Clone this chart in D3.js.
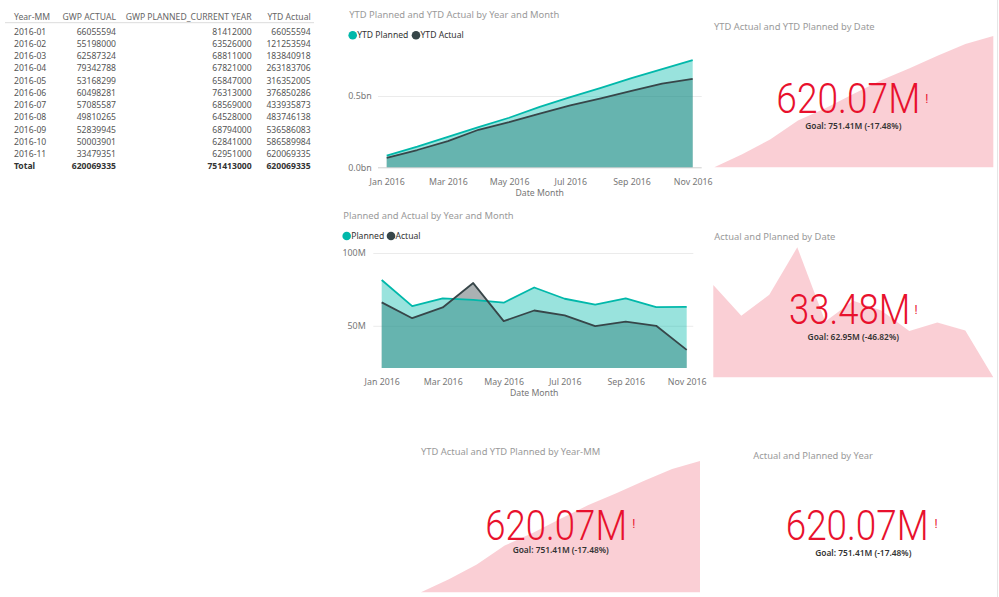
<!DOCTYPE html>
<html><head><meta charset="utf-8">
<script src="https://cdn.jsdelivr.net/npm/d3@7"></script>
<style>
html,body{margin:0;padding:0;background:#fff;}
svg{display:block;font-family:"Noto Sans","Open Sans",sans-serif;}
</style></head><body>
<svg id="c" width="999" height="597"></svg>
<script>
// ---------- data ----------
const months = ["2016-01","2016-02","2016-03","2016-04","2016-05","2016-06","2016-07","2016-08","2016-09","2016-10","2016-11"];
const gwpActual = [66055594,55198000,62587324,79342788,53168299,60498281,57085587,49810265,52839945,50003901,33479351];
const gwpPlanned = [81412000,63526000,68811000,67821000,65847000,76313000,68569000,64528000,68794000,62841000,62951000];
const ytdActual = [66055594,121253594,183840918,263183706,316352005,376850286,433935873,483746138,536586083,586589984,620069335];
const ytdPlanned = [81412000,144938000,213749000,281570000,347417000,423730000,492299000,556827000,625621000,688462000,751413000];
const tableHeaders = ["Year-MM","GWP ACTUAL","GWP PLANNED_CURRENT YEAR","YTD Actual"];
const totalLabel = "Total";
const totals = [620069335,751413000,620069335];
const xTickMonths = ["2016-01","2016-03","2016-05","2016-07","2016-09","2016-11"];
const xTickLabels = ["Jan 2016","Mar 2016","May 2016","Jul 2016","Sep 2016","Nov 2016"];
const ytdTicks = [0, 5e8];
const monthlyTicks = [50e6, 100e6];
const kpiCards = [
  {title:"YTD Actual and YTD Planned by Date", value:"620.07M", goal:"Goal: 751.41M (-17.48%)"},
  {title:"Actual and Planned by Date", value:"33.48M", goal:"Goal: 62.95M (-46.82%)"},
  {title:"YTD Actual and YTD Planned by Year-MM", value:"620.07M", goal:"Goal: 751.41M (-17.48%)"},
  {title:"Actual and Planned by Year", value:"620.07M", goal:"Goal: 751.41M (-17.48%)"}
];

const C_PLAN = "#01B8AA", C_ACT = "#374649", C_BAD = "#e8112d";
const svg = d3.select("#c");
svg.append("rect").attr("width",999).attr("height",597).attr("fill","#fff");

// ---------- table ----------
(function(){
  const g = svg.append("g").attr("class","table").attr("font-size","8.6px");
  const colX = [14,116,251.7,310.7];
  const anchors = ["start","end","end","end"];
  g.selectAll("text.h").data(tableHeaders).join("text").attr("class","h")
    .attr("x",(d,i)=>colX[i]).attr("y",20).attr("text-anchor",(d,i)=>anchors[i])
    .attr("fill","#666").text(d=>d);
  g.append("line").attr("x1",5).attr("x2",314).attr("y1",22.7).attr("y2",22.7)
    .attr("stroke","#dcdcdc").attr("stroke-width",1);
  const rowY = d3.scaleLinear().domain([0,10]).range([34.7,157.0]);
  const rows = months.map((m,i)=>[m,gwpActual[i],gwpPlanned[i],ytdActual[i]]);
  const rg = g.selectAll("g.r").data(rows).join("g").attr("class","r")
    .attr("transform",(d,i)=>`translate(0,${rowY(i)})`);
  rg.selectAll("text").data(d=>d).join("text")
    .attr("x",(d,i)=>colX[i]).attr("text-anchor",(d,i)=>anchors[i])
    .attr("fill","#555").text(d=>d);
  const tr = [totalLabel].concat(totals);
  g.selectAll("text.t").data(tr).join("text").attr("class","t")
    .attr("x",(d,i)=>colX[i]).attr("y",168.7).attr("text-anchor",(d,i)=>anchors[i])
    .attr("fill","#333").attr("font-weight","bold").text(d=>d);
})();

// ---------- area chart helper ----------
function areaChart(o){
  const g = svg.append("g");
  const x = d3.scalePoint().domain(months).range(o.xr);
  const y = d3.scaleLinear().domain(o.yd).range(o.yr);
  g.append("text").attr("x",o.titleX).attr("y",o.titleY).attr("fill","#9a9a9a")
    .attr("font-size","9.4px").text(o.title);
  const lg = g.selectAll("g.lg").data(o.legend).join("g").attr("class","lg")
    .attr("transform",d=>`translate(${d.x},${o.legY})`);
  lg.append("circle").attr("r",4.3).attr("fill",d=>d.c);
  lg.append("text").attr("x",4.5).attr("dy","0.35em").attr("font-size","8.6px").attr("fill","#333").text(d=>d.t);
  const ya = d3.axisLeft(y).tickValues(o.yTicks).tickFormat(o.yFmt)
    .tickSize(-(o.gridR - o.gridL)).tickPadding(o.yPad);
  const yg = g.append("g").attr("transform",`translate(${o.gridL},0)`).call(ya);
  yg.select(".domain").remove();
  yg.selectAll(".tick line").attr("stroke",d=>(d===0?"#cfcfcf":"#ebebeb"));
  yg.selectAll(".tick text").attr("fill","#777").attr("font-size","8.9px").attr("font-family","Noto Sans");
  const base = o.yr[0];
  const aAct = d3.area().x((d,i)=>x(months[i])).y0(base).y1(d=>y(d));
  g.append("path").datum(o.act).attr("d",aAct).attr("fill",C_ACT).attr("fill-opacity",0.42);
  g.append("path").datum(o.plan).attr("d",aAct).attr("fill",C_PLAN).attr("fill-opacity",0.4);
  const ln = d3.line().x((d,i)=>x(months[i])).y(d=>y(d));
  g.append("path").datum(o.plan).attr("d",ln).attr("fill","none").attr("stroke",C_PLAN).attr("stroke-width",1.8).attr("stroke-linejoin","round");
  g.append("path").datum(o.act).attr("d",ln).attr("fill","none").attr("stroke",C_ACT).attr("stroke-width",1.8).attr("stroke-linejoin","round");
  const xa = d3.axisBottom(x).tickValues(xTickMonths).tickFormat((d,i)=>xTickLabels[i]).tickSize(0).tickPadding(0);
  const xg = g.append("g").attr("transform",`translate(0,${o.xLabY})`).call(xa);
  xg.select(".domain").remove();
  xg.selectAll(".tick text").attr("dy","0.35em").attr("fill","#777").attr("font-size","8.8px").attr("font-family","Noto Sans");
  g.append("text").attr("x",(o.xr[0]+o.xr[1])/2).attr("y",o.xTitleY).attr("dy","0.35em")
    .attr("text-anchor","middle").attr("fill","#777").attr("font-size","8.7px").text("Date Month");
}

areaChart({
  title:"YTD Planned and YTD Actual by Year and Month", titleX:349.3, titleY:18.3,
  legend:[{x:352.7,t:"YTD Planned",c:C_PLAN},{x:416,t:"YTD Actual",c:C_ACT}], legY:35.3,
  xr:[386.7,692.7], yd:[0,0.8e9], yr:[167.3,167.3-0.8*142.6],
  yTicks:ytdTicks, yFmt:d=>(d/1e9).toFixed(1)+"bn", gridL:378, gridR:701.7, yPad:6.3,
  plan:ytdPlanned, act:ytdActual, xLabY:182, xTitleY:193
});
areaChart({
  title:"Planned and Actual by Year and Month", titleX:343.3, titleY:218.7,
  legend:[{x:346.7,t:"Planned",c:C_PLAN},{x:391,t:"Actual",c:C_ACT}], legY:236,
  xr:[381.7,686.7], yd:[21e6,100e6], yr:[368,253],
  yTicks:monthlyTicks, yFmt:d=>(d/1e6)+"M", gridL:373.3, gridR:693.3, yPad:7.6,
  plan:gwpPlanned, act:gwpActual, xLabY:382.3, xTitleY:393.3
});

// ---------- KPI cards ----------
function kpi(card, o){
  const g = svg.append("g");
  if (o.trend){
    const x = d3.scalePoint().domain(months).range(o.tx);
    const y = d3.scaleLinear().domain(d3.extent(o.trend)).range(o.ty);
    const a = d3.area().x((d,i)=>x(months[i])).y0(o.ty[0]).y1(d=>y(d));
    g.append("path").datum(o.trend).attr("d",a).attr("fill",C_BAD).attr("fill-opacity",0.2);
  }
  g.append("text").attr("x",o.titleX).attr("y",o.titleY).attr("fill","#9a9a9a")
    .attr("font-size","9.4px").text(card.title);
  g.append("text").attr("x",o.numX-2).attr("y",o.numY).attr("fill",C_BAD)
    .attr("font-family","Roboto").attr("font-weight",300).attr("font-size","42px")
    .attr("textLength",o.numW+4).attr("lengthAdjust","spacingAndGlyphs").text(card.value);
  g.append("text").attr("x",o.exX+1).attr("y",o.exY).attr("fill",C_BAD)
    .attr("font-family","Roboto").attr("font-size","12px").text("!");
  g.append("text").attr("x",o.goalX).attr("y",o.goalY).attr("text-anchor","middle")
    .attr("fill","#333").attr("font-weight",600).attr("font-size","8.4px").text(card.goal);
}
kpi(kpiCards[0], {trend:ytdActual, tx:[714.3,993.3], ty:[167.3,36],
  titleX:714, titleY:29.7, numX:778.3, numY:113.3, numW:140, exX:924.3, exY:102.7, goalX:853.3, goalY:129.3});
kpi(kpiCards[1], {trend:gwpActual, tx:[713.3,993.3], ty:[377.3,247.3],
  titleX:714.3, titleY:240.3, numX:791, numY:324, numW:117.3, exX:913.5, exY:314, goalX:853.3, goalY:340});
kpi(kpiCards[2], {trend:ytdActual, tx:[421,700], ty:[592.3,461],
  titleX:421, titleY:454.7, numX:487.3, numY:540, numW:137.7, exX:631.2, exY:528.3, goalX:560.7, goalY:553.3});
kpi(kpiCards[3], {trend:null,
  titleX:753.3, titleY:458.7, numX:787.7, numY:540, numW:139, exX:933.5, exY:528.3, goalX:863.3, goalY:555.6});

svg.append("line").attr("x1",997.5).attr("x2",997.5).attr("y1",0).attr("y2",597).attr("stroke","#e6e6e6");
</script>
</body></html>
